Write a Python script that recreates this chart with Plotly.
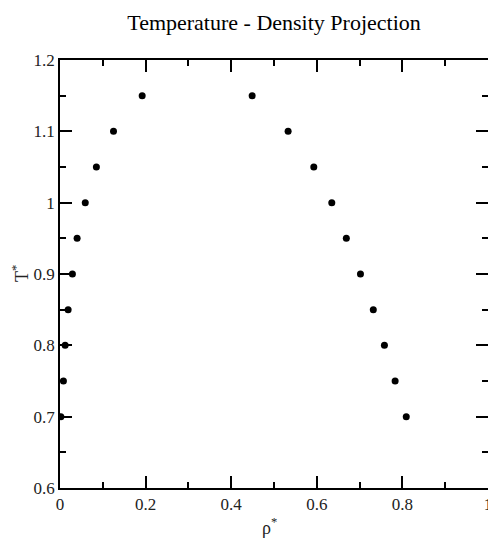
import plotly.graph_objects as go

# coexistence curve: vapour (low density) and liquid (high density) branches
temp = [0.70, 0.75, 0.80, 0.85, 0.90, 0.95, 1.00, 1.05, 1.10, 1.15]
rho_vapour = [0.002, 0.008, 0.012, 0.019, 0.029, 0.040, 0.059, 0.085, 0.125, 0.192]
rho_liquid = [0.809, 0.783, 0.758, 0.732, 0.702, 0.669, 0.635, 0.593, 0.533, 0.449]

serif = "Liberation Serif"

fig = go.Figure()
fig.add_trace(go.Scatter(x=rho_vapour + rho_liquid, y=temp + temp,
                         mode="markers",
                         marker=dict(color="black", size=7, symbol="circle"),
                         showlegend=False))

axis_style = dict(showline=True, linecolor="black", linewidth=1.5, mirror="allticks",
                  ticks="inside", ticklen=12, tickwidth=1.5, tickcolor="black",
                  showgrid=False, zeroline=False, automargin=False,
                  tickfont=dict(family=serif, size=17, color="#222"),
                  minor=dict(ticks="inside", ticklen=6, tickwidth=1.5, tickcolor="black",
                             showgrid=False))

fig.update_xaxes(range=[0, 1], tickvals=[0, 0.2, 0.4, 0.6, 0.8, 1],
                 ticktext=["0", "0.2", "0.4", "0.6", "0.8", "1"],
                 minor_dtick=0.1, **axis_style)
fig.update_yaxes(range=[0.6, 1.2], tickvals=[0.6, 0.7, 0.8, 0.9, 1.0, 1.1, 1.2],
                 ticktext=["0.6", "0.7", "0.8", "0.9", "1", "1.1", "1.2"],
                 minor_dtick=0.05, **axis_style)

# the page adds an 8px body margin, so the figure is sized to fit inside it
fig.update_layout(
    width=488, height=536,
    margin=dict(l=52, r=8, t=52, b=56),
    paper_bgcolor="white", plot_bgcolor="white",
    title=dict(text="Temperature - Density Projection",
               font=dict(family=serif, size=22, color="black"),
               x=266 / 488, xanchor="center",
               yref="container", y=1 - 14 / 536, yanchor="middle"),
    annotations=[
        dict(text="ρ<sup>*</sup>", xref="paper", yref="paper", x=0.49, y=0,
             xanchor="center", yanchor="middle", yshift=-38, showarrow=False,
             font=dict(family=serif, size=18, color="#222")),
        dict(text="T<sup>*</sup>", xref="paper", yref="paper", x=0, y=0.5,
             xanchor="center", yanchor="middle", xshift=-40, textangle=-90,
             showarrow=False, font=dict(family=serif, size=18, color="#222")),
    ],
)

fig.write_html("out.html")
